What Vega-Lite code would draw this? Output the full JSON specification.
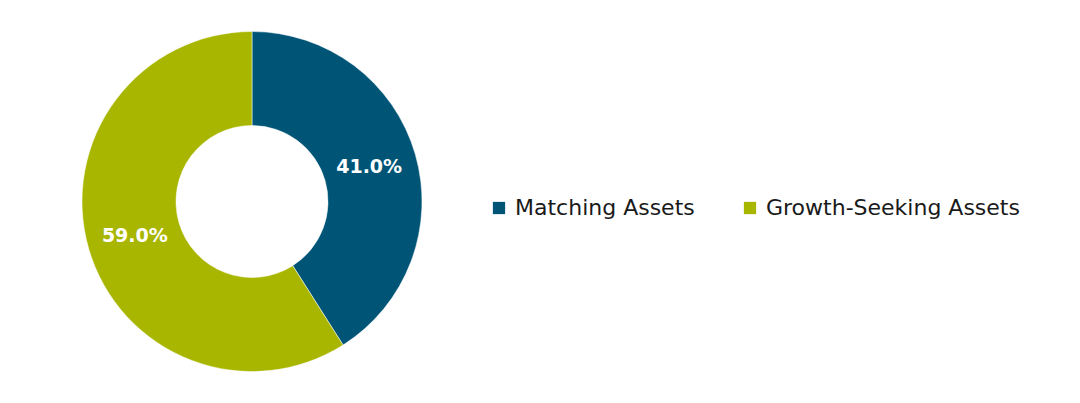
{
  "$schema": "https://vega.github.io/schema/vega-lite/v6.json",
  "width": 504,
  "height": 403,
  "padding": 0,
  "background": "white",
  "view": {"stroke": null},
  "data": {
    "values": [
      {"idx": 1, "category": "Matching Assets", "share": 0.41},
      {"idx": 2, "category": "Growth-Seeking Assets", "share": 0.59}
    ]
  },
  "encoding": {
    "theta": {"field": "share", "type": "quantitative", "stack": true},
    "order": {"field": "idx", "type": "quantitative"},
    "color": {
      "field": "category",
      "type": "nominal",
      "scale": {
        "domain": ["Matching Assets", "Growth-Seeking Assets"],
        "range": ["#005577", "#A9B600"]
      },
      "legend": {
        "title": null,
        "orient": "none",
        "legendX": 488,
        "legendY": 197,
        "direction": "horizontal",
        "symbolType": "square",
        "symbolSize": 150,
        "symbolStrokeWidth": 0,
        "labelFont": "DejaVu Sans",
        "labelFontSize": 22,
        "labelColor": "#1a1a1a",
        "labelOffset": 5,
        "columnPadding": 44,
        "labelLimit": 400
      }
    }
  },
  "layer": [
    {
      "mark": {"type": "arc", "outerRadius": 170, "innerRadius": 76, "stroke": "white", "strokeWidth": 0.5}
    },
    {
      "mark": {"type": "text", "radius": 122, "font": "DejaVu Sans", "fontSize": 19, "fontWeight": "bold", "fill": "white"},
      "encoding": {
        "text": {"field": "share", "type": "quantitative", "format": ".1%"},
        "color": {"value": "white"}
      }
    }
  ]
}
